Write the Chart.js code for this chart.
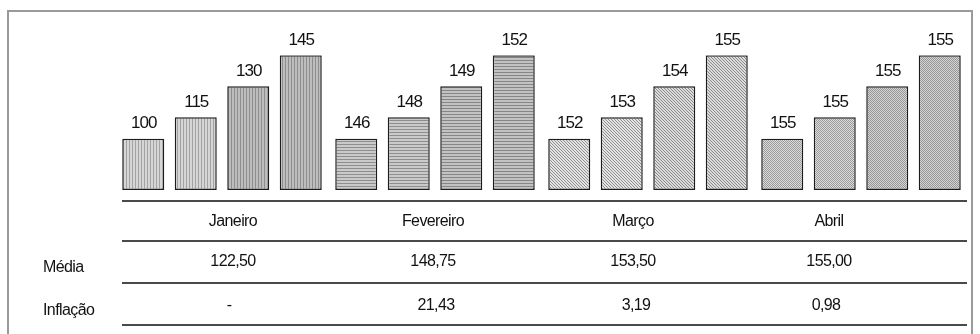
<!DOCTYPE html>
<html>
<head>
<meta charset="utf-8">
<script src="https://cdn.jsdelivr.net/npm/chart.js@4/dist/chart.umd.min.js"></script>
<style>
  html, body { margin: 0; padding: 0; background: #fff; }
  #wrap { position: relative; width: 980px; height: 334px; overflow: hidden; font-family: "Liberation Sans", Arial, sans-serif; color: #111; }
  #c { position: absolute; left: 0; top: 0; }
  .t { position: absolute; font-size: 16px; line-height: 16px; letter-spacing: -0.6px; white-space: nowrap; transform: translateX(-50%); }
  .lbl { position: absolute; font-size: 16px; line-height: 16px; letter-spacing: -0.6px; white-space: nowrap; }
  .ln { position: absolute; height: 2px; background: #4a4a4a; }
  .fr { position: absolute; background: #9a9a9a; }
</style>
</head>
<body>
<div id="wrap">
  <canvas id="c" width="980" height="334"></canvas>
  <div id="table"></div>
</div>
<script>
// ---- data ----
const meses = ['Janeiro', 'Fevereiro', 'Março', 'Abril'];
// value printed above each bar (one array per bar position in the group)
const valores1 = [100, 146, 152, 155];
const valores2 = [115, 148, 153, 155];
const valores3 = [130, 149, 154, 155];
const valores4 = [145, 152, 155, 155];
// drawn bar heights, relative
const altura1 = [38, 38, 38, 38];
const altura2 = [54, 54, 54, 54];
const altura3 = [77, 77, 77, 77];
const altura4 = [100, 100, 100, 100];
const media = ['122,50', '148,75', '153,50', '155,00'];
const inflacao = ['-', '21,43', '3,19', '0,98'];
const rotulosLinhas = ['Média', 'Inflação'];

// ---- patterns ----
function makePattern(type, bg, fg) {
  const c = document.createElement('canvas');
  const dims = { v: [3, 1], h: [1, 3], d: [3, 3], p: [2, 2] }[type];
  c.width = dims[0]; c.height = dims[1];
  const x = c.getContext('2d');
  x.fillStyle = bg; x.fillRect(0, 0, c.width, c.height);
  x.fillStyle = fg;
  if (type === 'v') x.fillRect(0, 0, 1, 1);
  if (type === 'h') x.fillRect(0, 0, 1, 1);
  if (type === 'd') { x.fillRect(0, 0, 1, 1); x.fillRect(1, 1, 1, 1); x.fillRect(2, 2, 1, 1); }
  if (type === 'p') { x.fillRect(0, 0, 1, 1); x.fillRect(1, 1, 1, 1); }
  return x.createPattern(c, 'repeat');
}
const estilos = [
  ['v', ['#d6d6d6', '#a2a2a2'], ['#bdbdbd', '#8e8e8e']],
  ['h', ['#cacaca', '#8e8e8e'], ['#c2c2c2', '#868686']],
  ['d', ['#e4e4e4', '#8e8e8e'], ['#dcdcdc', '#8a8a8a']],
  ['p', ['#dcdcdc', '#9a9a9a'], ['#d4d4d4', '#969696']]
];
function fills(pos) {
  return estilos.map(s => {
    const shade = pos < 2 ? s[1] : s[2];
    return makePattern(s[0], shade[0], shade[1]);
  });
}

const alturas = [altura1, altura2, altura3, altura4];
const valores = [valores1, valores2, valores3, valores4];

const datasets = alturas.map((h, i) => ({
  data: h,
  valores: valores[i],
  backgroundColor: fills(i),
  borderColor: '#1c1c1c',
  borderWidth: 1.5,
  borderSkipped: false,
  categoryPercentage: 0.986,
  barPercentage: 0.8
}));

const valueLabels = {
  id: 'valueLabels',
  afterDatasetsDraw(chart) {
    const ctx = chart.ctx;
    ctx.save();
    ctx.font = '17px "Liberation Sans", Arial, sans-serif';
    ctx.letterSpacing = '-1px';
    ctx.fillStyle = '#111';
    ctx.textAlign = 'center';
    ctx.textBaseline = 'alphabetic';
    chart.data.datasets.forEach((ds, i) => {
      chart.getDatasetMeta(i).data.forEach((el, j) => {
        ctx.fillText(String(ds.valores[j]), el.x + 0.5, el.y - 10.5);
      });
    });
    ctx.restore();
  }
};

new Chart(document.getElementById('c'), {
  type: 'bar',
  data: { labels: meses, datasets },
  options: {
    responsive: false,
    animation: false,
    events: [],
    layout: { padding: { left: 115.5, right: 12.5, top: 55.3, bottom: 144 } },
    plugins: { legend: { display: false }, tooltip: { enabled: false } },
    scales: {
      x: { display: false },
      y: { display: false, min: 0, max: 100 }
    }
  },
  plugins: [valueLabels]
});

// ---- table below the bars ----
const tbl = document.getElementById('table');
function add(cls, style, text) {
  const d = document.createElement('div');
  d.className = cls;
  Object.assign(d.style, style);
  if (text !== undefined) d.textContent = text;
  tbl.appendChild(d);
}
// frame
add('fr', { left: '7px', top: '10px', width: '2px', height: '330px' });
add('fr', { left: '7px', top: '10px', width: '965px', height: '2px' });
add('fr', { left: '971px', top: '10px', width: '2px', height: '330px' });
// horizontal rules
[200, 240, 282, 324].forEach(y => add('ln', { left: '122px', top: y + 'px', width: '845px' }));
const colX = [233, 433, 633, 829];
meses.forEach((m, j) => add('t', { left: colX[j] + 'px', top: '213px' }, m));
media.forEach((v, j) => add('t', { left: colX[j] + 'px', top: '253px' }, v));
inflacao.forEach((v, j) => add('t', { left: (colX[j] + [-4, 3, 3, -3][j]) + 'px', top: '297px' }, v));
add('lbl', { left: '43px', top: '259px' }, rotulosLinhas[0]);
add('lbl', { left: '43px', top: '302px' }, rotulosLinhas[1]);
</script>
</body>
</html>
